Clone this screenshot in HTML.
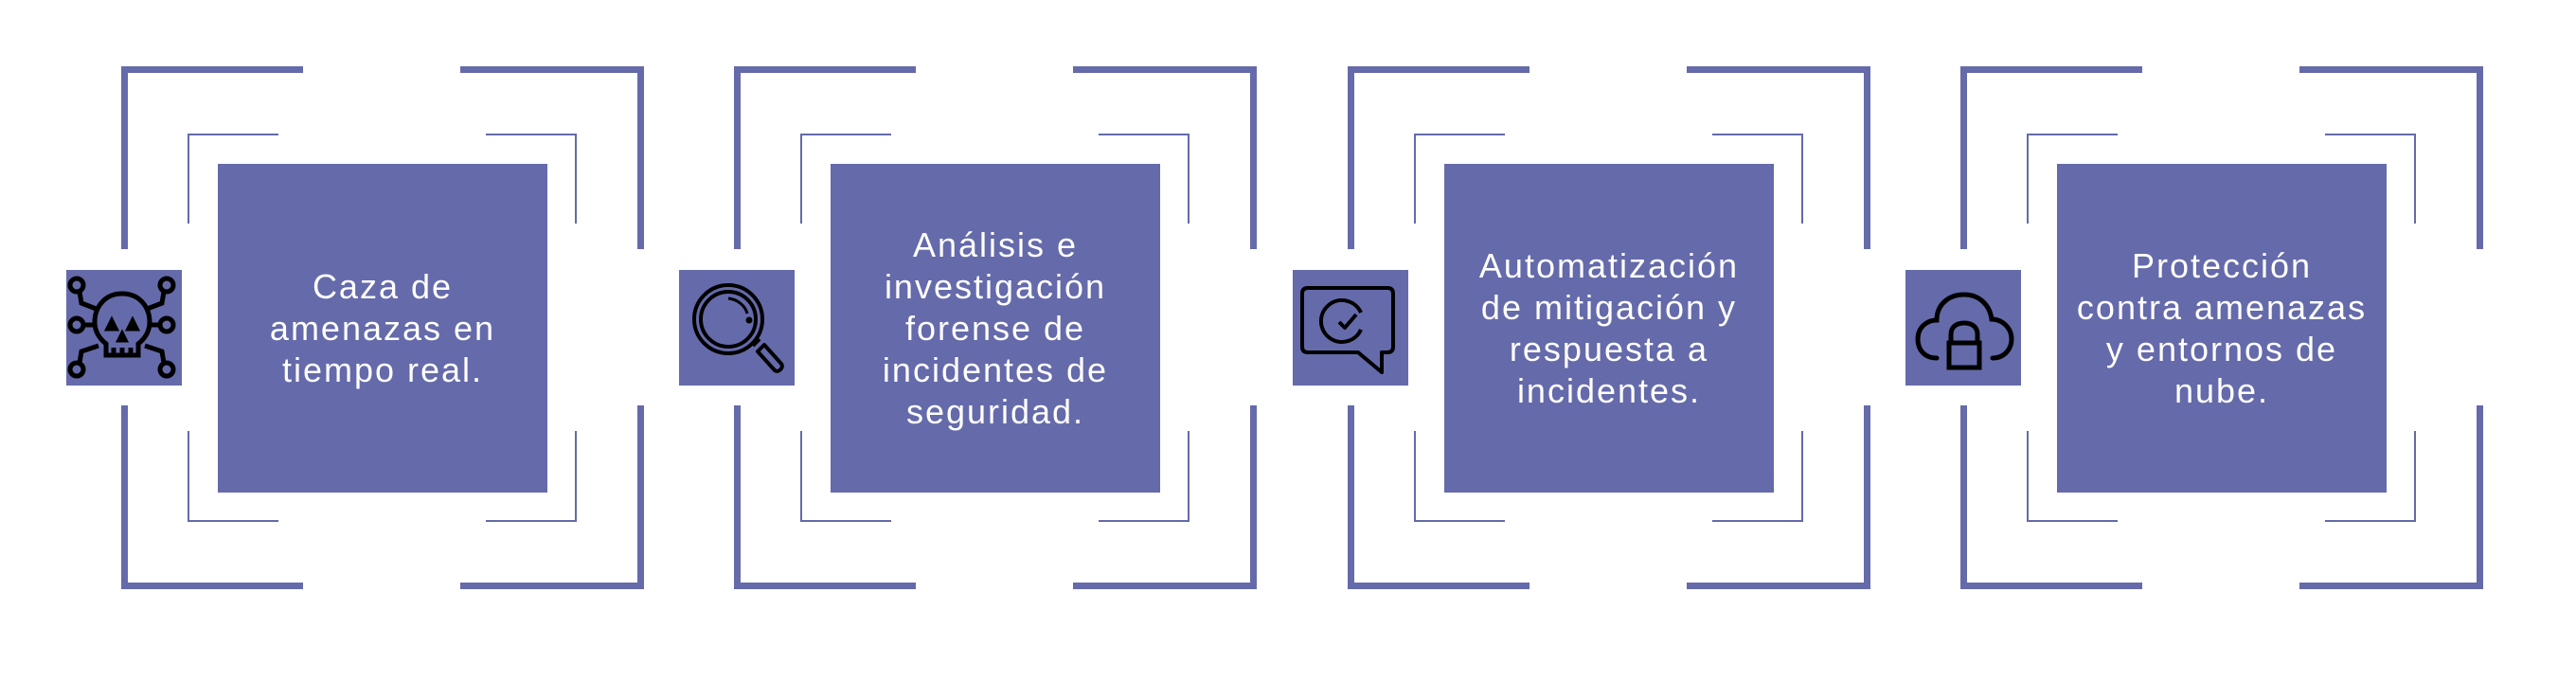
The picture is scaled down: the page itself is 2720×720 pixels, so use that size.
<!DOCTYPE html>
<html><head><meta charset="utf-8"><style>
html,body{margin:0;padding:0;background:#fff;width:2720px;height:720px;overflow:hidden;position:relative}
.g{position:absolute;top:0;width:700px;height:720px}
.b{position:absolute;background:#656aaa}
.box{position:absolute;left:230px;top:173px;width:348px;height:347px;background:#656aaa;display:flex;align-items:center;justify-content:center;text-align:center;color:#fff;font-family:"Liberation Sans",sans-serif;font-size:36px;line-height:44px;letter-spacing:2px}
.ic{position:absolute;left:70px;top:285px;width:122px;height:122px;background:#656aaa}
.ic svg{width:122px;height:122px}
</style></head><body>

<div class="g" style="left:0px">
<div class="b" style="left:128px;top:70px;width:192px;height:7px"></div>
<div class="b" style="left:128px;top:70px;width:7px;height:193px"></div>
<div class="b" style="left:486px;top:70px;width:194px;height:7px"></div>
<div class="b" style="left:673px;top:70px;width:7px;height:193px"></div>
<div class="b" style="left:128px;top:615px;width:192px;height:7px"></div>
<div class="b" style="left:128px;top:428px;width:7px;height:194px"></div>
<div class="b" style="left:486px;top:615px;width:194px;height:7px"></div>
<div class="b" style="left:673px;top:428px;width:7px;height:194px"></div>
<div class="b" style="left:198px;top:141px;width:96px;height:2px"></div>
<div class="b" style="left:198px;top:141px;width:2px;height:95px"></div>
<div class="b" style="left:513px;top:141px;width:96px;height:2px"></div>
<div class="b" style="left:607px;top:141px;width:2px;height:95px"></div>
<div class="b" style="left:198px;top:549px;width:96px;height:2px"></div>
<div class="b" style="left:198px;top:455px;width:2px;height:96px"></div>
<div class="b" style="left:513px;top:549px;width:96px;height:2px"></div>
<div class="b" style="left:607px;top:455px;width:2px;height:96px"></div>
<div class="box">Caza de<br>amenazas en<br>tiempo real.</div>
<div class="ic"><svg viewBox="0 0 122 122" fill="none" stroke="#000" stroke-width="5">
<circle cx="11" cy="16" r="7"/><circle cx="106" cy="16" r="7"/><circle cx="11" cy="58" r="7"/><circle cx="106" cy="58" r="7"/><circle cx="11" cy="105" r="7"/><circle cx="106" cy="105" r="7"/>
<path d="M14 23 L16 35 L34 42 M103 23 L101 35 L83 42 M18 58 H30 M99 58 H87 M14 98 L16 86 L34 80 M103 98 L101 86 L83 80"/>
<path d="M59 25 C40 25 30 40 30 55 C30 67 37 74 42 78 V90 H76 V78 C81 74 88 67 88 55 C88 40 78 25 59 25 Z"/>
<path d="M50 90 V82 M59 90 V82 M68 90 V82"/>
<path d="M44 62 L48 54 L52 62 Z M66 62 L70 54 L74 62 Z M56 74 L59 68 L62 74 Z" fill="#000"/>
</svg></div>
</div>

<div class="g" style="left:647px">
<div class="b" style="left:128px;top:70px;width:192px;height:7px"></div>
<div class="b" style="left:128px;top:70px;width:7px;height:193px"></div>
<div class="b" style="left:486px;top:70px;width:194px;height:7px"></div>
<div class="b" style="left:673px;top:70px;width:7px;height:193px"></div>
<div class="b" style="left:128px;top:615px;width:192px;height:7px"></div>
<div class="b" style="left:128px;top:428px;width:7px;height:194px"></div>
<div class="b" style="left:486px;top:615px;width:194px;height:7px"></div>
<div class="b" style="left:673px;top:428px;width:7px;height:194px"></div>
<div class="b" style="left:198px;top:141px;width:96px;height:2px"></div>
<div class="b" style="left:198px;top:141px;width:2px;height:95px"></div>
<div class="b" style="left:513px;top:141px;width:96px;height:2px"></div>
<div class="b" style="left:607px;top:141px;width:2px;height:95px"></div>
<div class="b" style="left:198px;top:549px;width:96px;height:2px"></div>
<div class="b" style="left:198px;top:455px;width:2px;height:96px"></div>
<div class="b" style="left:513px;top:549px;width:96px;height:2px"></div>
<div class="b" style="left:607px;top:455px;width:2px;height:96px"></div>
<div class="box">Análisis e<br>investigación<br>forense de<br>incidentes de<br>seguridad.</div>
<div class="ic"><svg viewBox="0 0 122 122" fill="none" stroke="#000" stroke-width="4">
<circle cx="52" cy="52" r="36"/><circle cx="52" cy="52" r="29"/>
<path d="M52 30 C62 31 70 38 72 46" stroke-width="3"/><circle cx="74" cy="53" r="1.5" fill="#000"/>
<path d="M78 80 L85 73 M83 86 L90 79 L108 99 C111 103 105 109 101 106 Z" stroke-linejoin="round"/>
</svg></div>
</div>

<div class="g" style="left:1295px">
<div class="b" style="left:128px;top:70px;width:192px;height:7px"></div>
<div class="b" style="left:128px;top:70px;width:7px;height:193px"></div>
<div class="b" style="left:486px;top:70px;width:194px;height:7px"></div>
<div class="b" style="left:673px;top:70px;width:7px;height:193px"></div>
<div class="b" style="left:128px;top:615px;width:192px;height:7px"></div>
<div class="b" style="left:128px;top:428px;width:7px;height:194px"></div>
<div class="b" style="left:486px;top:615px;width:194px;height:7px"></div>
<div class="b" style="left:673px;top:428px;width:7px;height:194px"></div>
<div class="b" style="left:198px;top:141px;width:96px;height:2px"></div>
<div class="b" style="left:198px;top:141px;width:2px;height:95px"></div>
<div class="b" style="left:513px;top:141px;width:96px;height:2px"></div>
<div class="b" style="left:607px;top:141px;width:2px;height:95px"></div>
<div class="b" style="left:198px;top:549px;width:96px;height:2px"></div>
<div class="b" style="left:198px;top:455px;width:2px;height:96px"></div>
<div class="b" style="left:513px;top:549px;width:96px;height:2px"></div>
<div class="b" style="left:607px;top:455px;width:2px;height:96px"></div>
<div class="box">Automatización<br>de mitigación y<br>respuesta a<br>incidentes.</div>
<div class="ic"><svg viewBox="0 0 122 122" fill="none" stroke="#000" stroke-width="4" stroke-linejoin="round">
<path d="M16 19 H100 Q106 19 106 25 V81 Q106 87 100 87 H94 V108 L69 87 H16 Q10 87 10 81 V25 Q10 19 16 19 Z"/>
<path d="M72 63 A22 22 0 1 1 72 45" /><path d="M49 55 L55 61 L67 47"/>
</svg></div>
</div>

<div class="g" style="left:1942px">
<div class="b" style="left:128px;top:70px;width:192px;height:7px"></div>
<div class="b" style="left:128px;top:70px;width:7px;height:193px"></div>
<div class="b" style="left:486px;top:70px;width:194px;height:7px"></div>
<div class="b" style="left:673px;top:70px;width:7px;height:193px"></div>
<div class="b" style="left:128px;top:615px;width:192px;height:7px"></div>
<div class="b" style="left:128px;top:428px;width:7px;height:194px"></div>
<div class="b" style="left:486px;top:615px;width:194px;height:7px"></div>
<div class="b" style="left:673px;top:428px;width:7px;height:194px"></div>
<div class="b" style="left:198px;top:141px;width:96px;height:2px"></div>
<div class="b" style="left:198px;top:141px;width:2px;height:95px"></div>
<div class="b" style="left:513px;top:141px;width:96px;height:2px"></div>
<div class="b" style="left:607px;top:141px;width:2px;height:95px"></div>
<div class="b" style="left:198px;top:549px;width:96px;height:2px"></div>
<div class="b" style="left:198px;top:455px;width:2px;height:96px"></div>
<div class="b" style="left:513px;top:549px;width:96px;height:2px"></div>
<div class="b" style="left:607px;top:455px;width:2px;height:96px"></div>
<div class="box">Protección<br>contra amenazas<br>y entornos de<br>nube.</div>
<div class="ic"><svg viewBox="0 0 122 122" fill="none" stroke="#000" stroke-width="5" stroke-linecap="round">
<path d="M33 93 C20 93 13 84 13 73 C13 61 22 53 33 53 C33 37 45 26 62 26 C78 26 89 37 91 52 C102 52 112 61 112 73 C112 84 104 93 92 93"/>
<path d="M48 77 V68 C48 60 54 56 62 56 C70 56 76 60 76 68 V77"/>
<rect x="46" y="77" width="32" height="26" stroke-linecap="butt"/>
</svg></div>
</div>
</body></html>
